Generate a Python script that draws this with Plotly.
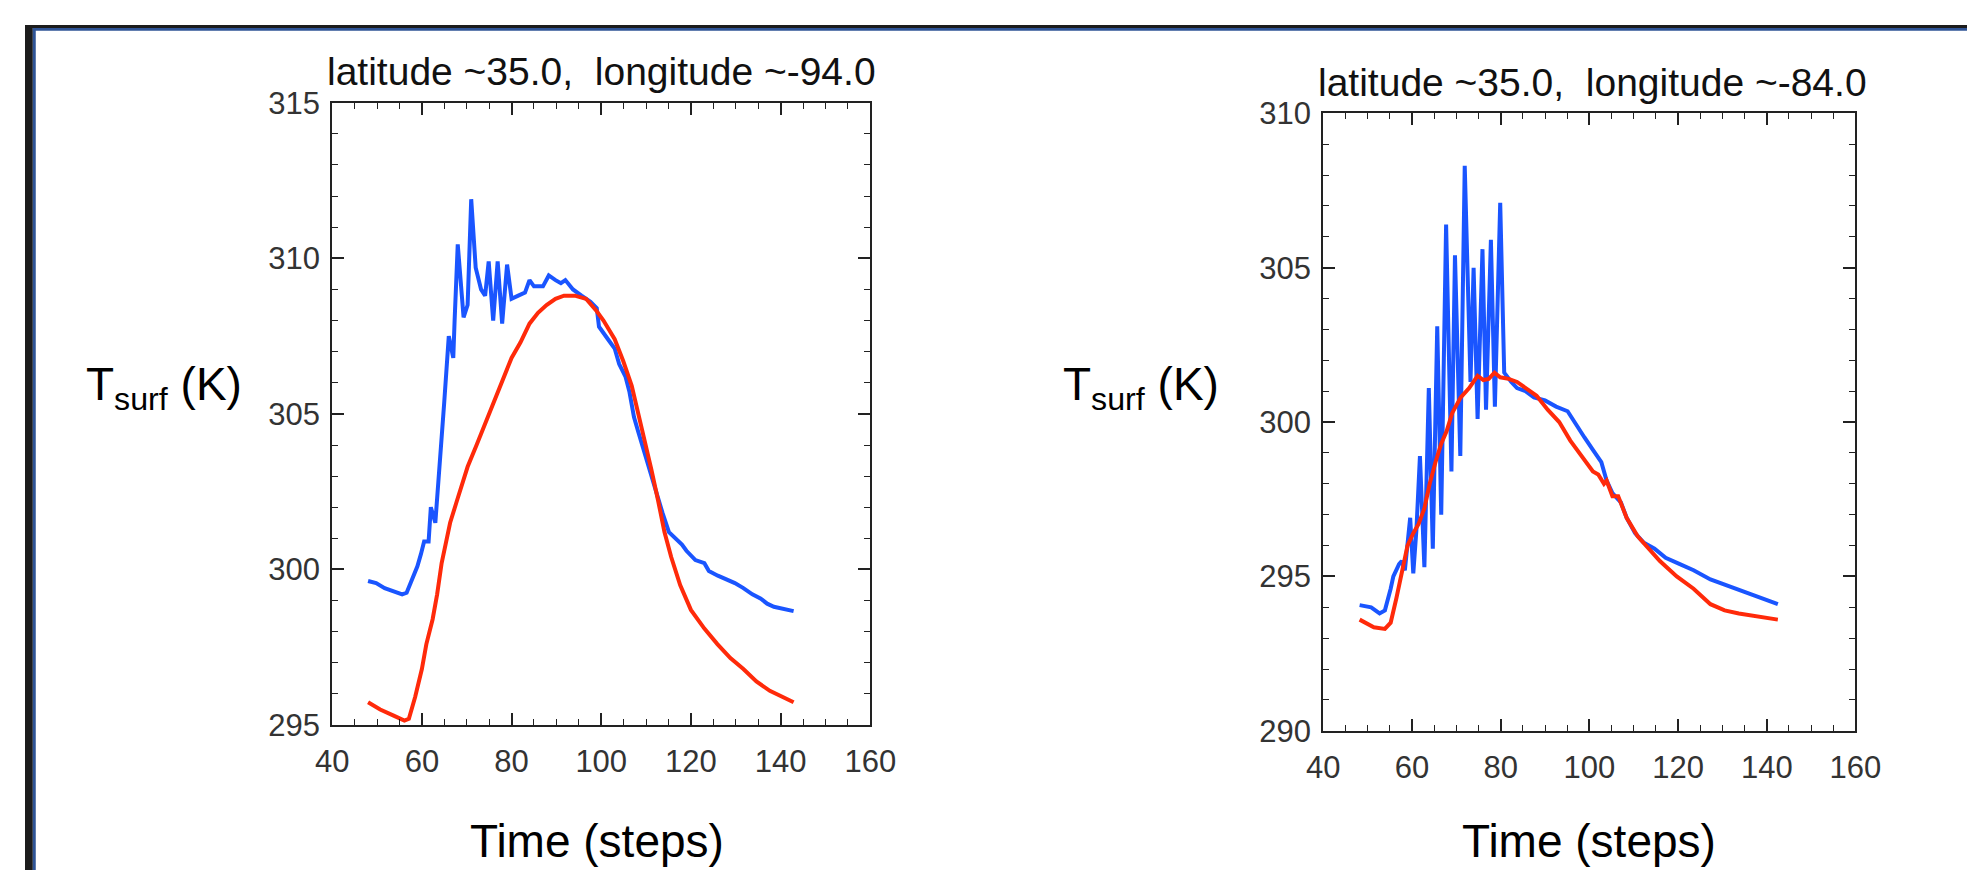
import plotly.graph_objects as go

# ---------- data ----------
# Left panel: latitude ~35.0, longitude ~-94.0
left_blue_x = [48, 49.8, 51.7, 53.7, 55.6, 56.6, 58, 59, 59.8, 60.5, 61.5, 62, 63, 64, 65, 66, 67, 67.3, 68,
               69.3, 70.2, 71, 72, 73.2, 74.1, 74.9, 75.9, 76.9, 77.9, 79, 80, 81.5, 83, 84, 85, 87, 88.3,
               89.8, 91, 92, 93.7, 95.6, 97.6, 99, 99.5, 101.5, 103, 104, 105.4, 106.3, 107.3, 108.3, 109.3,
               110.7, 112.2, 113.7, 115.1, 116.6, 118, 119, 121, 123, 124, 126, 127.8, 129.8, 131.7, 133.7,
               135.6, 137, 138.5, 140.5, 142.9]
left_blue_y = [299.63, 299.56, 299.4, 299.3, 299.2, 299.25, 299.77, 300.1, 300.5, 300.9, 300.9, 302.0, 301.5,
               303.3, 305.4, 307.5, 306.8, 308.0, 310.45, 308.1, 308.5, 311.9, 309.7, 309.0, 308.8, 309.9,
               308.0, 309.9, 307.9, 309.8, 308.7, 308.8, 308.9, 309.3, 309.1, 309.1, 309.45, 309.3, 309.2,
               309.3, 309.0, 308.8, 308.6, 308.4, 307.8, 307.4, 307.1, 306.6, 306.2, 305.7, 304.9, 304.4,
               303.9, 303.2, 302.5, 301.8, 301.2, 301.0, 300.8, 300.6, 300.3, 300.2, 299.95, 299.8, 299.7,
               299.56, 299.4, 299.2, 299.06, 298.9, 298.8, 298.75, 298.66]
left_red_x = [48, 50.7, 53.7, 56.1, 57.1, 58.5, 60, 61, 62.4, 63.4, 64.4, 66.3, 67.8, 69.3, 70.2, 72.2, 74.1,
              76.1, 78, 80, 82, 84, 85.9, 87.8, 89.8, 91.7, 94.1, 96.6, 99, 100.5, 103, 104.9, 106.8, 108.3,
              109.8, 111.2, 112.7, 114.1, 115.6, 117.6, 120, 123, 125.9, 128.8, 131.7, 134.6, 137.6, 140.5,
              142.9]
left_red_y = [295.73, 295.5, 295.3, 295.14, 295.2, 295.9, 296.8, 297.6, 298.4, 299.2, 300.2, 301.5, 302.2,
              302.9, 303.3, 304.0, 304.7, 305.4, 306.1, 306.8, 307.3, 307.9, 308.25, 308.5, 308.7, 308.8,
              308.8, 308.7, 308.3, 308.0, 307.4, 306.7, 305.9, 305.0, 304.0, 303.2, 302.2, 301.2, 300.4,
              299.5, 298.7, 298.1, 297.6, 297.15, 296.8, 296.4, 296.1, 295.9, 295.73]

# Right panel: latitude ~35.0, longitude ~-84.0
right_blue_x = [48.2, 50.8, 52.7, 53.9, 55.2, 55.8, 57.1, 57.7, 58.4, 59, 59.6, 60.3, 61, 61.8, 62.8, 63.8,
                64.7, 65.7, 66.6, 67.7, 68.9, 69.7, 70.9, 71.9, 73.2, 73.9, 74.8, 75.9, 76.7, 77.8, 78.7,
                79.9, 80.8, 82.4, 83.7, 85.6, 87.5, 90, 92.5, 95.1, 97, 98.9, 100.8, 102.7, 103.9, 105.2,
                107.1, 108.4, 110.3, 112.2, 114.7, 117.2, 120.4, 123.5, 127.3, 131.1, 134.9, 138.7, 142.5]
right_blue_y = [294.07, 294.0, 293.8, 293.9, 294.6, 295.0, 295.4, 295.5, 295.2, 296.1, 296.9, 295.1, 296.5,
                298.9, 295.3, 301.1, 295.9, 303.1, 297.0, 306.4, 298.4, 305.4, 298.9, 308.3, 301.3, 305.0,
                300.1, 305.6, 300.4, 305.9, 300.5, 307.1, 301.6, 301.3, 301.1, 301.0, 300.8, 300.7, 300.5,
                300.35, 299.9, 299.5, 299.1, 298.7, 298.1, 297.7, 297.4, 296.9, 296.4, 296.1, 295.9, 295.6,
                295.4, 295.2, 294.9, 294.7, 294.5, 294.3, 294.1]
right_red_x = [48.2, 51.4, 53.9, 55.2, 56.5, 57.7, 59, 60.3, 61.5, 62.8, 64, 65.3, 66.6, 67.8, 69.1, 71,
               72.9, 74.8, 76.1, 77.3, 78.6, 79.9, 81.8, 83.7, 85.6, 88.1, 90.6, 93.2, 95.7, 98.2, 100.8,
               102, 103.3, 103.9, 105.2, 106.5, 108.4, 110.9, 113.4, 115.9, 119.7, 123.5, 127.3, 130.5,
               133.7, 137.5, 142.5]
right_red_y = [293.6, 293.35, 293.3, 293.5, 294.3, 295.1, 296.0, 296.4, 296.7, 297.2, 298.0, 298.7, 299.3,
               299.7, 300.3, 300.8, 301.1, 301.5, 301.36, 301.4, 301.6, 301.45, 301.4, 301.3, 301.1, 300.85,
               300.4, 300.0, 299.4, 298.9, 298.4, 298.3, 298.0, 298.1, 297.6, 297.6, 296.9, 296.3, 295.9,
               295.5, 295.0, 294.6, 294.1, 293.9, 293.8, 293.7, 293.6]

titles = ["latitude ~35.0,  longitude ~-94.0", "latitude ~35.0,  longitude ~-84.0"]
y_title = "T<sub>surf</sub> (K)"
x_title = "Time (steps)"
x_range = [40, 160]
left_y_range = [295, 315]
right_y_range = [290, 310]

# ---------- figure ----------
W, H = 1985, 880
FONT = "Liberation Sans, Arial, sans-serif"
BLUE = "#1a55ff"
RED = "#ff2a0a"
AX = "#222222"
LW = 4


def px(x):
    return x / W


def py(y):
    return 1 - y / H


fig = go.Figure()
fig.add_trace(go.Scatter(x=left_blue_x, y=left_blue_y, mode="lines", line=dict(color=BLUE, width=LW),
                         xaxis="x", yaxis="y", showlegend=False))
fig.add_trace(go.Scatter(x=left_red_x, y=left_red_y, mode="lines", line=dict(color=RED, width=LW),
                         xaxis="x", yaxis="y", showlegend=False))
fig.add_trace(go.Scatter(x=right_blue_x, y=right_blue_y, mode="lines", line=dict(color=BLUE, width=LW),
                         xaxis="x2", yaxis="y2", showlegend=False))
fig.add_trace(go.Scatter(x=right_red_x, y=right_red_y, mode="lines", line=dict(color=RED, width=LW),
                         xaxis="x2", yaxis="y2", showlegend=False))


def xaxis(domain, anchor):
    return dict(domain=domain, anchor=anchor, range=x_range, tick0=40, dtick=20,
                showline=True, linecolor=AX, linewidth=2, mirror="allticks",
                ticks="inside", ticklen=12, tickwidth=1.5, tickcolor=AX,
                minor=dict(ticks="inside", ticklen=6, dtick=5, tick0=40, tickcolor=AX, tickwidth=1.2),
                tickfont=dict(family=FONT, size=31, color="#333333"),
                ticklabelstandoff=8,
                showgrid=False, zeroline=False, fixedrange=True)


def yaxis(domain, anchor, rng):
    return dict(domain=domain, anchor=anchor, range=rng, tick0=rng[0], dtick=5,
                showline=True, linecolor=AX, linewidth=2, mirror="allticks",
                ticks="inside", ticklen=12, tickwidth=1.5, tickcolor=AX,
                minor=dict(ticks="inside", ticklen=6, dtick=1, tick0=rng[0], tickcolor=AX, tickwidth=1.2),
                tickfont=dict(family=FONT, size=31, color="#333333"),
                ticklabelstandoff=4,
                showgrid=False, zeroline=False, fixedrange=True)


left_x = [px(314), px(864)]
left_y = [py(729), py(81)]
right_x = [px(1327), px(1871)]
right_y = [py(735), py(92)]

annotations = [
    dict(text=titles[0], x=px(589), y=py(48), xref="paper", yref="paper", showarrow=False,
         xanchor="center", yanchor="middle", font=dict(family=FONT, size=39, color="#111111")),
    dict(text=titles[1], x=px(1602), y=py(60), xref="paper", yref="paper", showarrow=False,
         xanchor="center", yanchor="middle", font=dict(family=FONT, size=39, color="#111111")),
    dict(text=y_title, x=px(142), y=py(378), xref="paper", yref="paper", showarrow=False,
         xanchor="center", yanchor="middle", font=dict(family=FONT, size=46, color="#000000")),
    dict(text=y_title, x=px(1141), y=py(378), xref="paper", yref="paper", showarrow=False,
         xanchor="center", yanchor="middle", font=dict(family=FONT, size=46, color="#000000")),
    dict(text=x_title, x=px(585), y=py(850), xref="paper", yref="paper", showarrow=False,
         xanchor="center", yanchor="middle", font=dict(family=FONT, size=46, color="#000000")),
    dict(text=x_title, x=px(1599), y=py(850), xref="paper", yref="paper", showarrow=False,
         xanchor="center", yanchor="middle", font=dict(family=FONT, size=46, color="#000000")),
]

shapes = [
    dict(type="rect", xref="paper", yref="paper", x0=0, x1=px(8), y0=0, y1=1,
         fillcolor="#1c1c1c", line=dict(width=0)),
    dict(type="rect", xref="paper", yref="paper", x0=0, x1=1, y0=py(3), y1=1,
         fillcolor="#1c1c1c", line=dict(width=0)),
    dict(type="rect", xref="paper", yref="paper", x0=px(8), x1=px(11), y0=0, y1=py(3),
         fillcolor="#2f5496", line=dict(width=0)),
    dict(type="rect", xref="paper", yref="paper", x0=px(8), x1=1, y0=py(6), y1=py(3),
         fillcolor="#2f5496", line=dict(width=0)),
]

fig.update_layout(
    width=W, height=H,
    margin=dict(l=0, r=0, t=0, b=0, pad=0),
    paper_bgcolor="white", plot_bgcolor="white",
    xaxis=xaxis(left_x, "y"),
    yaxis=yaxis(left_y, "x", left_y_range),
    xaxis2=xaxis(right_x, "y2"),
    yaxis2=yaxis(right_y, "x2", right_y_range),
    annotations=annotations,
    shapes=shapes,
    showlegend=False,
)

fig.write_html("out.html")
